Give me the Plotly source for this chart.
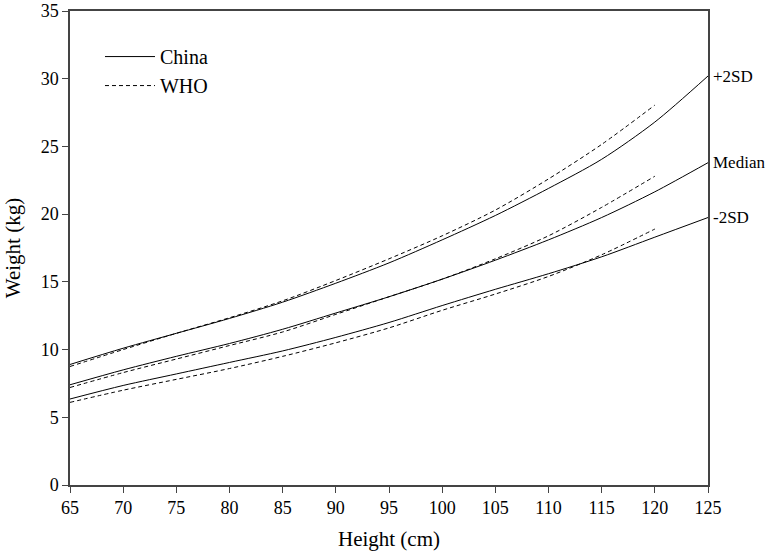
import plotly.graph_objects as go

height_china = [65, 70, 75, 80, 85, 90, 95, 100, 105, 110, 115, 120, 125]
china_p2sd = [8.9, 10.1, 11.2, 12.3, 13.5, 14.9, 16.4, 18.1, 19.9, 21.9, 24.05, 26.8, 30.2]
china_median = [7.4, 8.5, 9.5, 10.45, 11.5, 12.7, 13.9, 15.2, 16.6, 18.1, 19.75, 21.65, 23.8]
china_m2sd = [6.35, 7.35, 8.2, 9.05, 9.9, 10.9, 12.0, 13.25, 14.45, 15.6, 16.85, 18.3, 19.75]

height_who = [65, 70, 75, 80, 85, 90, 95, 100, 105, 110, 115, 120]
who_p2sd = [8.75, 10.0, 11.2, 12.35, 13.6, 15.1, 16.7, 18.4, 20.3, 22.6, 25.15, 28.05]
who_median = [7.2, 8.3, 9.3, 10.3, 11.3, 12.6, 13.9, 15.2, 16.7, 18.4, 20.5, 22.8]
who_m2sd = [6.1, 7.0, 7.8, 8.6, 9.5, 10.5, 11.6, 12.9, 14.1, 15.4, 17.0, 18.9]

curve_labels = ["+2SD", "Median", "-2SD"]

FONT = "Liberation Serif"
fig = go.Figure()

china_sets = [china_p2sd, china_median, china_m2sd]
who_sets = [who_p2sd, who_median, who_m2sd]

for i, ys in enumerate(china_sets):
    fig.add_trace(go.Scatter(x=height_china, y=ys, mode="lines", name="China",
                             line=dict(color="black", width=1, shape="spline", smoothing=0.8),
                             showlegend=(i == 0), legendgroup="china"))
for i, ys in enumerate(who_sets):
    fig.add_trace(go.Scatter(x=height_who, y=ys, mode="lines", name="WHO",
                             line=dict(color="black", width=1, dash="4px,3px", shape="spline", smoothing=0.8),
                             showlegend=(i == 0), legendgroup="who"))

for lab, ys in zip(curve_labels, china_sets):
    fig.add_annotation(x=height_china[-1], y=ys[-1], text=lab, showarrow=False,
                       xanchor="left", yanchor="middle", xshift=3,
                       font=dict(family=FONT, size=17, color="black"))

axis_common = dict(showline=True, linecolor="#444", linewidth=1.5, mirror=True,
                   ticks="outside", ticklen=6, tickcolor="#444", showgrid=False,
                   zeroline=False, automargin=False,
                   tickfont=dict(family=FONT, size=18, color="black"))

fig.update_xaxes(range=[65, 125], dtick=5, tick0=65,
                 title=dict(text="Height (cm)", font=dict(family=FONT, size=21, color="black"), standoff=14),
                 **axis_common)
fig.update_yaxes(range=[0, 35], dtick=5,
                 title=dict(text="Weight (kg)", font=dict(family=FONT, size=21, color="black"), standoff=14),
                 **axis_common)

fig.update_layout(width=774, height=554, plot_bgcolor="white", paper_bgcolor="white",
                  margin=dict(l=70, r=66, t=11, b=69, autoexpand=False),
                  legend=dict(x=0.047, y=0.945, xanchor="left", yanchor="top",
                              font=dict(family=FONT, size=20, color="black"),
                              bgcolor="rgba(0,0,0,0)", itemwidth=50, tracegroupgap=0),
                  font=dict(family=FONT))

fig.write_html("out.html", config={"displayModeBar": False},
               post_script="document.body.style.margin='0px';")
